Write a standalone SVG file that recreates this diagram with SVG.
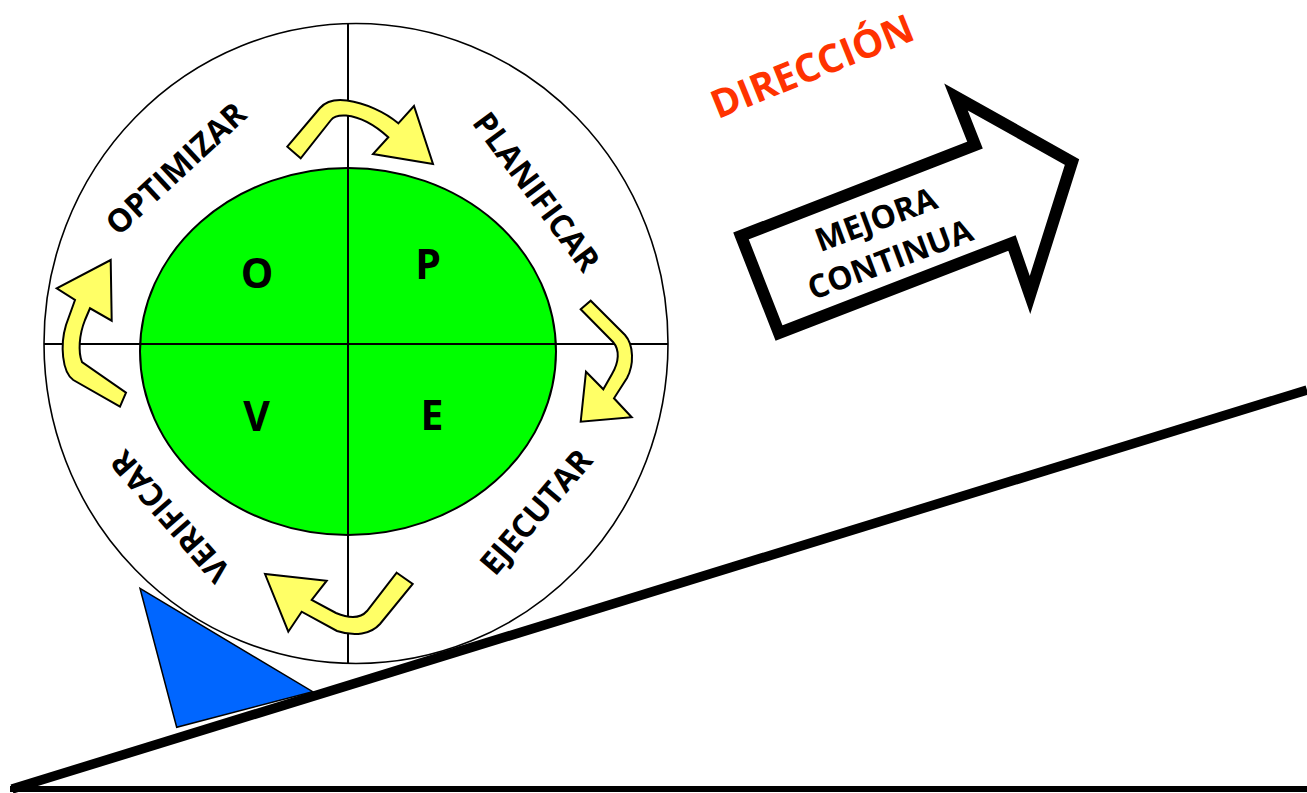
<svg xmlns="http://www.w3.org/2000/svg" width="1307" height="793" viewBox="0 0 1307 793">
<style>
.lbl{font-family:"Open Sans","Liberation Sans",sans-serif;font-weight:700;fill:#000;text-anchor:middle}
.yarrow{fill:#FFFF66;stroke:#000;stroke-width:2;stroke-linejoin:miter}
.axis{stroke:#000;stroke-width:2;fill:none}
</style>
<rect x="0" y="0" width="1307" height="793" fill="#fff"/>
<g id="wheel">
<ellipse cx="356" cy="343.5" rx="312" ry="320" fill="#fff" stroke="#000" stroke-width="1.6"/>
<ellipse cx="348" cy="351.5" rx="208" ry="183.5" fill="#00FF00" stroke="#000" stroke-width="2"/>
<line class="axis" x1="348" y1="23.5" x2="348" y2="663"/>
<line class="axis" x1="44" y1="344" x2="668" y2="344"/>
</g>
<g id="quadrants">
<text class="lbl" x="257" y="288" font-size="41">O</text>
<text class="lbl" x="428" y="279" font-size="41">P</text>
<text class="lbl" x="256.5" y="431" font-size="41">V</text>
<text class="lbl" x="432" y="430" font-size="41">E</text>
</g>
<g id="labels">
<text class="lbl" font-size="32" transform="translate(175.8,168.3) rotate(-42.8)" x="0" y="11.5">OPTIMIZAR</text>
<text class="lbl" font-size="32" transform="translate(536.7,191.7) rotate(53.4)" x="0" y="11.5">PLANIFICAR</text>
<text class="lbl" font-size="32" transform="translate(535.8,511.7) rotate(-49.5)" x="0" y="11.5">EJECUTAR</text>
<text class="lbl" font-size="32" transform="translate(170,516.7) rotate(-131.2)" x="0" y="11.5">VERIFICAR</text>
</g>
<g id="connectors">
<path class="yarrow" d="M287.3,146.7 L320,108 C327,100 336,99 347,100.5 C365,103 385,112 398.3,123.3 L414,106 L433,164 L373,154 L388.3,137.3 C375,125 360,117 346,115.5 C339,115 334,116 331,120 L300.7,158.3 Z"/>
<path class="yarrow" d="M580.7,309.3 L590.7,300.7 L625,335 C634,345 634,365 627,378 L614,398.3 L631.7,417.3 L580.7,421.7 L586,371.7 L603.3,389.3 L612,374 C619,362 620,350 613,342 Z"/>
<path class="yarrow" d="M396.7,572.7 L412.7,584 L380,624 C371,634 355,637 337,631 L301.7,611.7 L288.3,631.7 L265,574 L326.7,580.7 L311.7,600 L336,613 C348,618 360,619 367,611 Z"/>
<path class="yarrow" d="M120,406.7 L73.3,380 C62,372 60,345 66,325 L75,300 L56.7,288.3 L110.7,260 L111.7,320.7 L90,308.3 L85,320 C79,335 78,352 82,362 L126,392.7 Z"/>
</g>
<g id="wedge">
<polygon points="140,588.3 312.7,691.7 176.7,727.3" fill="#0066FF" stroke="#000" stroke-width="1.5"/>
</g>
<g id="slope">
<line x1="10" y1="789" x2="1307" y2="789" stroke="#000" stroke-width="6"/>
<line x1="12" y1="789" x2="1307" y2="390" stroke="#000" stroke-width="9.5"/>
</g>
<g id="direccion">
<text class="lbl" font-size="39" style="fill:#FF3300" transform="translate(812,66) rotate(-22)" x="0" y="14">DIRECCIÓN</text>
</g>
<g id="mejora">
<polygon points="741,236 779,333 1012,243 1030,295 1072,162 956,97 975,145" fill="#fff" stroke="#000" stroke-width="12" stroke-linejoin="miter" stroke-miterlimit="10"/>
<text class="lbl" font-size="32" transform="translate(875.8,219.2) rotate(-20.5)" x="0" y="11.4">MEJORA</text>
<text class="lbl" font-size="32" transform="translate(890,259.2) rotate(-20.5)" x="0" y="11.4">CONTINUA</text>
</g>
</svg>
